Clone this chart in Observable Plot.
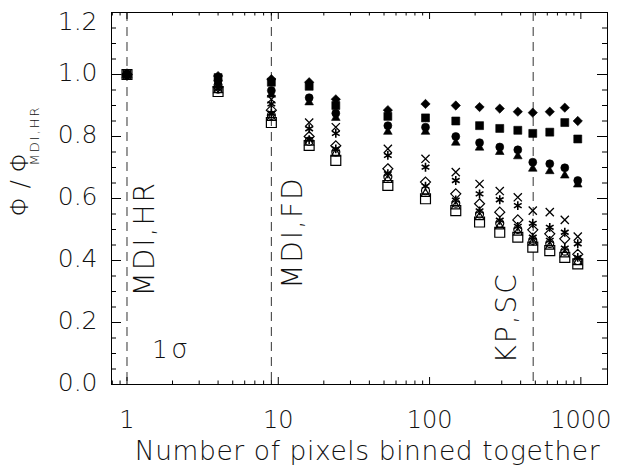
<!DOCTYPE html>
<html><head><meta charset="utf-8">
<script src="https://cdn.jsdelivr.net/npm/d3@7"></script>
<script src="https://cdn.jsdelivr.net/npm/@observablehq/plot@0.6"></script>
<style>html,body{margin:0;padding:0;background:#fff;}</style>
</head><body><div id="chart"></div>
<script>
// ---- data ----
const binSizes = [1, 4, 9, 16, 24, 53, 94, 149, 214, 291, 383, 481, 623, 783, 954];
const filledDiamond  = [1.00, 0.995, 0.985, 0.975, 0.92, 0.885, 0.905, 0.90, 0.895, 0.89, 0.88, 0.877, 0.88, 0.893, 0.85];
const filledSquare   = [1.00, 0.99, 0.975, 0.962, 0.90, 0.865, 0.86, 0.85, 0.835, 0.826, 0.82, 0.81, 0.814, 0.845, 0.792];
const filledCircle   = [1.00, 0.98, 0.948, 0.925, 0.875, 0.835, 0.83, 0.80, 0.78, 0.766, 0.757, 0.717, 0.712, 0.699, 0.658];
const filledTriangle = [1.00, 0.975, 0.935, 0.91, 0.86, 0.815, 0.815, 0.78, 0.764, 0.75, 0.736, 0.696, 0.688, 0.674, 0.645];
const crosses        = [1.00, 0.97, 0.92, 0.845, 0.83, 0.76, 0.728, 0.685, 0.647, 0.624, 0.604, 0.561, 0.556, 0.531, 0.477];
const asterisksA     = [1.00, 0.965, 0.905, 0.825, 0.81, 0.739, 0.701, 0.658, 0.615, 0.596, 0.577, 0.52, 0.507, 0.491, 0.454];
const openDiamond    = [1.00, 0.96, 0.885, 0.80, 0.77, 0.696, 0.653, 0.615, 0.583, 0.556, 0.531, 0.499, 0.486, 0.47, 0.42];
const asterisksB     = [1.00, 0.955, 0.875, 0.79, 0.76, 0.68, 0.64, 0.595, 0.56, 0.53, 0.51, 0.475, 0.465, 0.44, 0.41];
const openCircle     = [1.00, 0.953, 0.868, 0.785, 0.75, 0.67, 0.625, 0.585, 0.55, 0.52, 0.50, 0.465, 0.455, 0.43, 0.40];
const openTriangle   = [1.00, 0.95, 0.86, 0.78, 0.745, 0.66, 0.615, 0.575, 0.54, 0.51, 0.49, 0.458, 0.445, 0.42, 0.395];
const openSquare     = [1.00, 0.945, 0.845, 0.771, 0.723, 0.642, 0.599, 0.561, 0.524, 0.491, 0.475, 0.443, 0.432, 0.41, 0.389];

const xTickLabels = [1, 10, 100, 1000];
const xMinorTicks = [0.8, 0.9, 2, 3, 4, 5, 6, 7, 8, 9, 20, 30, 40, 50, 60, 70, 80, 90, 200, 300, 400, 500, 600, 700, 800, 900];
const yTickLabels = [0, 0.2, 0.4, 0.6, 0.8, 1.0, 1.2];
const yMinorTicks = [0.05, 0.1, 0.15, 0.25, 0.3, 0.35, 0.45, 0.5, 0.55, 0.65, 0.7, 0.75, 0.85, 0.9, 0.95, 1.05, 1.1, 1.15];

const resolutionX = [1, 9, 484];
const resolutionNames = ["MDI,HR", "MDI,FD", "KP,SC"];
const resolutionLabelY = [0.47, 0.49, 0.215];
const sigmaLabel = {x: 1.47, y: 0.084};

const xTitle = "Number of pixels binned together";
const yTitle = "Φ / Φ";
const yTitleSub = "MDI,HR";

// ---- layout / style ----
const W = 628, H = 468, mL = 111, mR = 21, mT = 12, mB = 84;
const frameW = W - mL - mR, frameH = H - mT - mB;
const FONT = "DejaVu Sans";
const FW = 200;
const TXT = "#111";

const series = [
  ["openSquare", openSquare], ["openTriangle", openTriangle], ["openCircle", openCircle],
  ["asterisksB", asterisksB], ["openDiamond", openDiamond], ["asterisksA", asterisksA],
  ["crosses", crosses], ["filledTriangle", filledTriangle], ["filledCircle", filledCircle],
  ["filledSquare", filledSquare], ["filledDiamond", filledDiamond]
];
const markerStyle = {
  openSquare:     {symbol: "square", fill: "none", r: 5.6, strokeWidth: 1.2},
  openTriangle:   {symbol: "triangle", fill: "none", r: 3.3, strokeWidth: 1.2},
  openCircle:     {symbol: "circle", fill: "none", r: 4, strokeWidth: 1.2},
  asterisksB:     {symbol: "asterisk", fill: "none", r: 4.2, strokeWidth: 1.6},
  openDiamond:    {symbol: "diamond2", fill: "none", r: 4.5, strokeWidth: 1.2},
  asterisksA:     {symbol: "asterisk", fill: "none", r: 4.2, strokeWidth: 1.6},
  crosses:        {symbol: "times", fill: "none", r: 3.8, strokeWidth: 1.3},
  filledTriangle: {symbol: "triangle", fill: "black", r: 3.2, strokeWidth: 0.6},
  filledCircle:   {symbol: "circle", fill: "black", r: 4, strokeWidth: 0.6},
  filledSquare:   {symbol: "square", fill: "black", r: 4.5, strokeWidth: 0.6},
  filledDiamond:  {symbol: "diamond2", fill: "black", r: 4.2, strokeWidth: 0.6}
};

const marks = [];
// dashed resolution lines
marks.push(Plot.ruleX(resolutionX, {x: d => d, stroke: "#333", strokeWidth: 1, strokeDasharray: "9,6"}));
// labels along dashed lines
const labelDx = [18.5, 22, -26];
resolutionNames.forEach((name, i) => {
  marks.push(Plot.text([{x: resolutionX[i], y: resolutionLabelY[i], t: name}], {
    x: "x", y: "y", text: "t", rotate: -90, dx: labelDx[i], lineAnchor: "middle",
    fontSize: 28, fontFamily: FONT, fontWeight: FW, fill: TXT
  }));
});
// 1 sigma
marks.push(Plot.text([sigmaLabel], {x: "x", y: "y", text: () => "1", textAnchor: "start", lineAnchor: "bottom",
  fontSize: 24, fontFamily: FONT, fontWeight: FW, fill: TXT}));
marks.push(Plot.text([sigmaLabel], {x: "x", y: "y", text: () => "σ", textAnchor: "start", lineAnchor: "bottom",
  dx: 19, fontSize: 26, fontFamily: FONT, fontWeight: FW, fill: TXT}));

// markers
for (const [name, vals] of series) {
  const data = binSizes.map((x, i) => ({x, y: vals[i]}));
  marks.push(Plot.dot(data, {x: "x", y: "y", stroke: "black", ...markerStyle[name]}));
}

// ticks (inward, all four sides)
const xMajLen = 7, xMinLen = 3.5, yMajLen = 10, yMinLen = 5;
marks.push(Plot.tickX(xTickLabels, {x: d => d, insetTop: frameH - xMajLen, stroke: "black"}));
marks.push(Plot.tickX(xMinorTicks, {x: d => d, insetTop: frameH - xMinLen, stroke: "black"}));
marks.push(Plot.tickX(xTickLabels, {x: d => d, insetBottom: frameH - xMajLen, stroke: "black"}));
marks.push(Plot.tickX(xMinorTicks, {x: d => d, insetBottom: frameH - xMinLen, stroke: "black"}));
marks.push(Plot.tickY(yTickLabels, {y: d => d, insetRight: frameW - yMajLen, stroke: "black"}));
marks.push(Plot.tickY(yMinorTicks, {y: d => d, insetRight: frameW - yMinLen, stroke: "black"}));
marks.push(Plot.tickY(yTickLabels, {y: d => d, insetLeft: frameW - yMajLen, stroke: "black"}));
marks.push(Plot.tickY(yMinorTicks, {y: d => d, insetLeft: frameW - yMinLen, stroke: "black"}));
marks.push(Plot.frame({stroke: "black", strokeWidth: 1}));

// axis tick labels
marks.push(Plot.axisX({ticks: xTickLabels, tickSize: 0, tickPadding: 26, tickFormat: d => String(d),
  label: null, fontSize: 24, fontFamily: FONT, fontWeight: FW, fill: TXT}));
const yTop = yTickLabels[yTickLabels.length - 1];
marks.push(Plot.axisY({ticks: yTickLabels.filter(d => d !== yTop), tickSize: 0, tickPadding: 14, tickFormat: d3.format(".1f"),
  label: null, dy: -2, fontSize: 25, fontFamily: FONT, fontWeight: FW, fill: TXT}));
marks.push(Plot.axisY({ticks: [yTop], tickSize: 0, tickPadding: 14, tickFormat: d3.format(".1f"),
  label: null, dy: 9, fontSize: 25, fontFamily: FONT, fontWeight: FW, fill: TXT}));

// axis titles
marks.push(Plot.text([xTitle], {frameAnchor: "bottom", text: d => d, dy: 75, dx: 8, lineAnchor: "bottom",
  fontSize: 26.5, fontFamily: FONT, fontWeight: FW, fill: TXT}));
marks.push(Plot.text([yTitle], {frameAnchor: "left", text: d => d, rotate: -90, dx: -91, dy: 18, lineAnchor: "middle",
  fontSize: 24, fontFamily: FONT, fontWeight: FW, fill: TXT}));
marks.push(Plot.text([yTitleSub], {frameAnchor: "left", text: d => d, rotate: -90, dx: -77, dy: -33, lineAnchor: "middle",
  fontSize: 13, fontFamily: FONT, fontWeight: FW, fill: TXT}));

const chart = Plot.plot({
  width: W, height: H,
  marginLeft: mL, marginRight: mR, marginTop: mT, marginBottom: mB,
  style: {background: "white", fontFamily: FONT},
  x: {type: "log", domain: [0.79, 1500]},
  y: {domain: [0, 1.2]},
  marks
});
// Hershey-like wide letter spacing for the annotation and axis-title texts
d3.select(chart).selectAll("text").each(function () {
  const t = this.textContent;
  if (resolutionNames.includes(t)) d3.select(this).style("letter-spacing", "2px");
  if (t === xTitle) d3.select(this).style("letter-spacing", "0.6px");
});
document.getElementById("chart").appendChild(chart);
</script>
</body></html>
